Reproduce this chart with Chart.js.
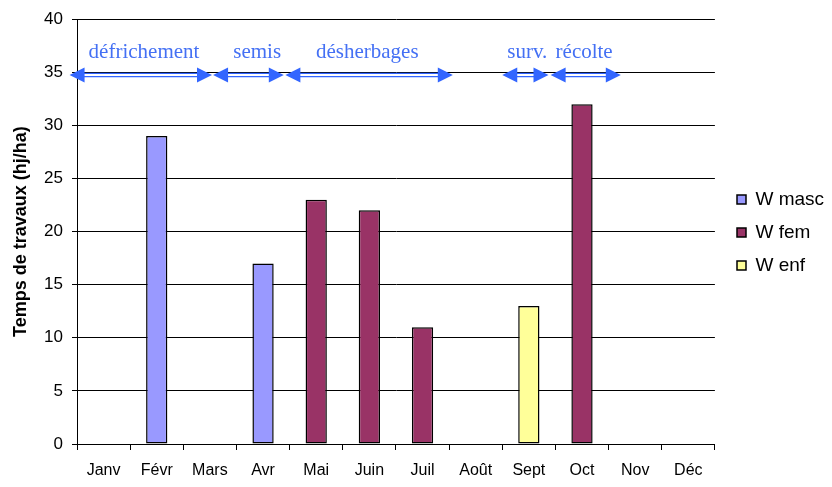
<!DOCTYPE html>
<html>
<head>
<meta charset="utf-8">
<script src="https://cdn.jsdelivr.net/npm/chart.js@4/dist/chart.umd.min.js"></script>
<style>
html,body{margin:0;padding:0;background:#fff;}
#wrap{width:832px;height:487px;position:relative;}
</style>
</head>
<body>
<div id="wrap"><canvas id="c" width="832" height="487"></canvas></div>
<script>
const months = ['Janv','Févr','Mars','Avr','Mai','Juin','Juil','Août','Sept','Oct','Nov','Déc'];
const wMasc = [null,29,null,17,null,null,null,null,null,null,null,null];
const wFem  = [null,null,null,null,23,22,11,null,null,32,null,null];
const wEnf  = [null,null,null,null,null,null,null,null,13,null,null,null];
const seriesNames = ['W masc','W fem','W enf'];
const yTicks = [0,5,10,15,20,25,30,35,40];
// phase arrows, in category-index units, at value level
const phaseFrom   = [-0.64, 2.06, 3.42, 7.50, 8.41];
const phaseTo     = [ 2.04, 3.39, 6.57, 8.37, 9.73];
const phaseLevel  = 34.75;
const phaseLabels = ['défrichement','semis','désherbages','surv.','récolte'];
const phaseLabelX = [0.76, 2.89, 4.96, 7.97, 9.04];
const phaseLabelY = 36.35;

const blue = '#3366FF';
const arrowPlugin = {
  id:'phases',
  afterLayout(chart){
    const lg = chart.legend;
    if (lg){
      const dx = 737 - (lg.left + lg.options.labels.padding);
      lg.left += dx; lg.right += dx;
      lg.top = 190 - lg.options.labels.padding;
    }
  },
  afterDraw(chart){
    const {ctx, scales:{x,y}} = chart;
    const step = x.getPixelForValue(1) - x.getPixelForValue(0);
    const px = v => x.getPixelForValue(0) + v*step;
    ctx.save();
    ctx.fillStyle = blue; ctx.strokeStyle = blue;
    const yy = y.getPixelForValue(phaseLevel);
    for (let i=0;i<phaseFrom.length;i++){
      const a = px(phaseFrom[i]), b = px(phaseTo[i]);
      const hl = 15, hh = 7.5;
      ctx.lineWidth = 1.2;
      ctx.beginPath();
      ctx.moveTo(a+hl-2, yy-1.6); ctx.lineTo(b-hl+2, yy-1.6);
      ctx.moveTo(a+hl-2, yy+1.6); ctx.lineTo(b-hl+2, yy+1.6);
      ctx.stroke();
      ctx.beginPath();
      ctx.moveTo(a, yy); ctx.lineTo(a+hl, yy-hh); ctx.lineTo(a+hl, yy+hh); ctx.closePath(); ctx.fill();
      ctx.beginPath();
      ctx.moveTo(b, yy); ctx.lineTo(b-hl, yy-hh); ctx.lineTo(b-hl, yy+hh); ctx.closePath(); ctx.fill();
    }
    ctx.font = '21px "Liberation Serif", "Times New Roman", serif';
    ctx.textAlign = 'center'; ctx.textBaseline = 'alphabetic';
    ctx.fillStyle = '#4470F4';
    const ty = y.getPixelForValue(phaseLabelY);
    for (let i=0;i<phaseLabels.length;i++){
      ctx.fillText(phaseLabels[i], px(phaseLabelX[i]), ty);
    }
    ctx.restore();
  }
};

Chart.defaults.font.family = '"Liberation Sans", Arial, sans-serif';
Chart.defaults.color = '#000';

new Chart(document.getElementById('c'), {
  type:'bar',
  data:{
    labels: months,
    datasets:[
      {label:seriesNames[0], data:wMasc, backgroundColor:'#9999FF'},
      {label:seriesNames[1], data:wFem,  backgroundColor:'#993366'},
      {label:seriesNames[2], data:wEnf,  backgroundColor:'#FFFF99'}
    ]
  },
  options:{
    responsive:false,
    animation:false,
    devicePixelRatio:1,
    layout:{padding:{left:0, right:6, top:17, bottom:0}},
    datasets:{bar:{barPercentage:0.4, categoryPercentage:1.0, borderColor:'#000', borderWidth:1.5, borderSkipped:false}},
    scales:{
      x:{
        stacked:true,
        afterFit(axis){ axis.height = 43; },
        grid:{offset:true, drawOnChartArea:false, drawTicks:true, tickLength:6, color:'#000'},
        border:{color:'#000', width:1},
        ticks:{font:{size:16}, padding:11, maxRotation:0, autoSkip:false}
      },
      y:{
        stacked:true,
        min:0, max:40,
        afterBuildTicks(axis){ axis.ticks = yTicks.map(v=>({value:v})); },
        afterFit(axis){ axis.width = 77; },
        grid:{color:'#000', lineWidth:1, tickLength:5},
        border:{color:'#000', width:1},
        ticks:{font:{size:17}, padding:9},
        title:{display:true, text:'Temps de travaux (hj/ha)', font:{size:18, weight:'bold'}, padding:{top:10,bottom:0}}
      }
    },
    plugins:{
      legend:{
        position:'right',
        align:'start',
        labels:{boxWidth:9, boxHeight:9, font:{size:19}, padding:14, color:'#000'}
      },
      tooltip:{enabled:false}
    }
  },
  plugins:[arrowPlugin]
});
</script>
</body>
</html>
